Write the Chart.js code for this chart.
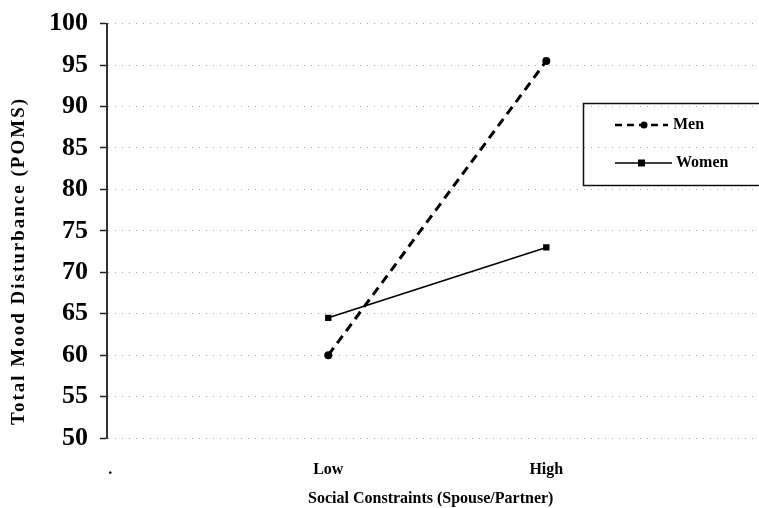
<!DOCTYPE html>
<html>
<head>
<meta charset="utf-8">
<script src="https://cdn.jsdelivr.net/npm/chart.js@4.4.1/dist/chart.umd.min.js"></script>
<style>
  html, body { margin: 0; padding: 0; background: #fff; }
  #wrap { width: 759px; height: 508px; }
</style>
</head>
<body>
<div id="wrap"><canvas id="canvas" width="759" height="508"></canvas></div>
<script>
// data
let categories = ['Low', 'High'];
let men = [60, 95.5];
let women = [64.5, 73];
let yTicks = [50, 55, 60, 65, 70, 75, 80, 85, 90, 95, 100];

let serif = "'Liberation Serif', 'Times New Roman', serif";

// category i sits at x = i + 1 on a linear axis so the plot starts at 0
function toPoints(values) {
  return values.map((v, i) => ({ x: i + 1, y: v }));
}

// legend box and y title, drawn on the canvas
let extras = {
  id: 'extras',
  afterDraw(chart) {
    let ctx = chart.ctx;
    ctx.save();
    // legend
    ctx.strokeStyle = '#111';
    ctx.lineWidth = 1.5;
    ctx.strokeRect(583.5, 103.5, 180, 82);

    ctx.fillStyle = '#000';
    ctx.strokeStyle = '#000';
    ctx.lineWidth = 2.5;
    ctx.setLineDash([7, 5]);
    ctx.beginPath(); ctx.moveTo(615, 125); ctx.lineTo(668, 125); ctx.stroke();
    ctx.setLineDash([]);
    ctx.beginPath(); ctx.arc(644, 125, 3.5, 0, Math.PI * 2); ctx.fill();

    ctx.lineWidth = 1.3;
    ctx.beginPath(); ctx.moveTo(615, 163); ctx.lineTo(672, 163); ctx.stroke();
    ctx.fillRect(638, 159.5, 7, 7);

    ctx.font = 'bold 16px ' + serif;
    ctx.textBaseline = 'middle';
    ctx.textAlign = 'left';
    ctx.fillText('Men', 673, 125);
    ctx.fillText('Women', 676, 163);

    // y axis title
    ctx.translate(19, 261);
    ctx.rotate(-Math.PI / 2);
    ctx.textAlign = 'center';
    ctx.font = 'bold 19px ' + serif;
    ctx.letterSpacing = '2px';
    ctx.fillText('Total Mood Disturbance (POMS)', 0, 0);
    ctx.restore();
  }
};

let ctx = document.getElementById('canvas').getContext('2d');
let myChart = new Chart(ctx, {
  type: 'line',
  data: {
    datasets: [{
      label: 'Men',
      data: toPoints(men),
      borderColor: '#000',
      backgroundColor: '#000',
      borderWidth: 3,
      borderDash: [9, 6],
      pointStyle: 'circle',
      pointRadius: 4,
      pointBorderWidth: 0
    }, {
      label: 'Women',
      data: toPoints(women),
      borderColor: '#000',
      backgroundColor: '#000',
      borderWidth: 1.6,
      pointStyle: 'rect',
      pointRadius: 4.5,
      pointBorderWidth: 0
    }]
  },
  options: {
    responsive: false,
    animation: false,
    layout: { padding: { top: 22, right: 0, bottom: 0, left: 0 } },
    plugins: {
      legend: { display: false },
      tooltip: { enabled: false }
    },
    scales: {
      x: {
        type: 'linear',
        min: -0.015,
        max: 2.955,
        afterBuildTicks: (scale) => {
          scale.ticks = [0, 1, 2].map(v => ({ value: v }));
        },
        afterFit: (scale) => { scale.height = 70; },
        grid: { display: false },
        border: { display: false },
        ticks: {
          padding: 14,
          maxRotation: 0,
          color: '#000',
          font: { family: serif, size: 16, weight: 'bold' },
          callback: (v) => v === 0 ? '.' : categories[v - 1]
        },
        title: {
          display: true,
          text: 'Social Constraints (Spouse/Partner)',
          color: '#000',
          font: { family: serif, size: 16, weight: 'bold' },
          padding: { top: 14, bottom: 0 }
        }
      },
      y: {
        min: 50,
        max: 100,
        afterBuildTicks: (scale) => {
          scale.ticks = yTicks.map(v => ({ value: v }));
        },
        afterFit: (scale) => { scale.width = 107; },
        grid: {
          color: '#a8a8a8',
          lineWidth: 1,
          tickLength: 7,
          tickColor: '#222',
          tickWidth: 1.5,
          tickBorderDash: []
        },
        border: { display: true, color: '#333', width: 2, dash: [1, 6] },
        ticks: {
          padding: 12,
          color: '#000',
          font: { family: serif, size: 26, weight: 'bold', lineHeight: 0.9 }
        }
      }
    }
  },
  plugins: [extras]
});
</script>
</body>
</html>
